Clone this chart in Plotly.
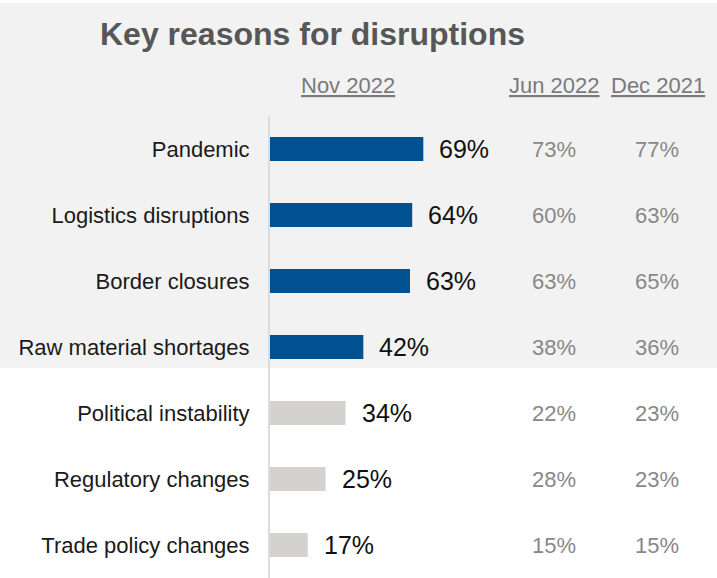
import plotly.graph_objects as go

categories = ["Pandemic", "Logistics disruptions", "Border closures", "Raw material shortages",
              "Political instability", "Regulatory changes", "Trade policy changes"]
nov_2022 = [69, 64, 63, 42, 34, 25, 17]
jun_2022 = [73, 60, 63, 38, 22, 28, 15]
dec_2021 = [77, 63, 65, 36, 23, 23, 15]
highlighted = [True, True, True, True, False, False, False]
column_headers = ["Nov 2022", "Jun 2022", "Dec 2021"]
title_text = "Key reasons for disruptions"

W, H = 717, 578
ML, MR, MT, MB = 270, 0, 116, 0
PX_PER_PCT = 2.222
plot_w = W - ML - MR
plot_h = H - MT - MB
x_max = plot_w / PX_PER_PCT

def px_to_x(px):
    return (px - ML) / PX_PER_PCT

def py_to_paper(py):
    return (H - MB - py) / plot_h

FONT = "Liberation Sans, Arial, Helvetica, sans-serif"
BLUE = "#00518f"
LIGHT = "#d3d2cf"

colors = [BLUE if h else LIGHT for h in highlighted]

fig = go.Figure()
fig.add_trace(go.Bar(
    x=nov_2022, y=categories, orientation="h",
    marker=dict(color=colors, line=dict(width=0)),
    width=0.365, hoverinfo="skip",
))

annotations = []
for cat, v in zip(categories, nov_2022):
    annotations.append(dict(x=v, y=cat, xref="x", yref="y", text=f"{v}%",
                            showarrow=False, xanchor="left", xshift=14,
                            font=dict(family=FONT, size=25, color="#111111")))
col_x = [px_to_x(554), px_to_x(657)]
for series, cx in zip([jun_2022, dec_2021], col_x):
    for cat, v in zip(categories, series):
        annotations.append(dict(x=cx, y=cat, xref="x", yref="y", text=f"{v}%",
                                showarrow=False, xanchor="center",
                                font=dict(family=FONT, size=22, color="#888888")))
header_x = [px_to_x(348), px_to_x(554), px_to_x(658)]
for hx, ht in zip(header_x, column_headers):
    annotations.append(dict(x=hx, y=py_to_paper(85), xref="x", yref="paper",
                            text=f"<u>{ht}</u>", showarrow=False, xanchor="center",
                            yanchor="middle",
                            font=dict(family=FONT, size=22, color="#7a7a7a")))

shapes = [dict(type="rect", xref="paper", yref="paper",
               x0=-ML / plot_w, x1=1.0, y0=py_to_paper(367.7), y1=py_to_paper(3),
               fillcolor="#f2f2f2", line=dict(width=0), layer="below")]

fig.update_layout(
    width=W, height=H,
    margin=dict(l=ML, r=MR, t=MT, b=MB, pad=0),
    paper_bgcolor="white", plot_bgcolor="rgba(0,0,0,0)",
    showlegend=False,
    title=dict(text=f"<b>{title_text}</b>", xref="container", yref="container",
               x=100 / W, xanchor="left", y=1 - 34 / H, yanchor="middle",
               font=dict(family=FONT, size=32, color="#575757")),
    xaxis=dict(range=[0, x_max], visible=False, fixedrange=True),
    yaxis=dict(categoryorder="array", categoryarray=categories,
               range=[len(categories) - 0.5, -0.5],
               showline=True, linecolor="#dcdcdc", linewidth=2,
               showgrid=False, zeroline=False, ticks="",
               ticklabelstandoff=14,
               tickfont=dict(family=FONT, size=22, color="#1a1a1a")),
    annotations=annotations, shapes=shapes,
)

fig.write_html("out.html")
